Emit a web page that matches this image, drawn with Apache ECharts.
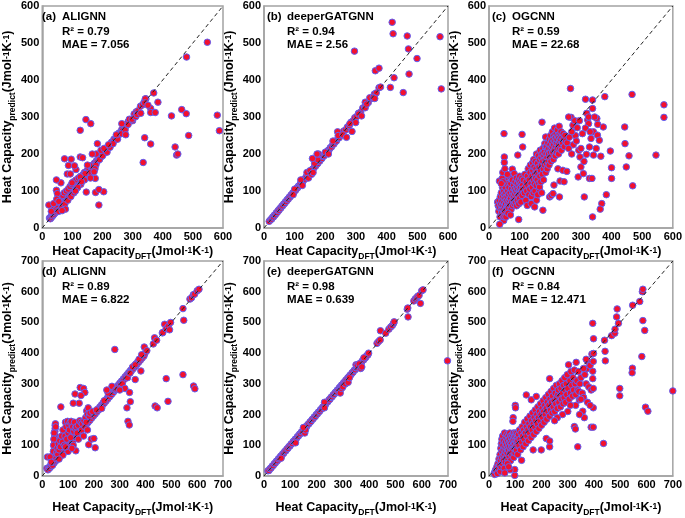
<!DOCTYPE html>
<html><head><meta charset="utf-8">
<script src="https://cdn.jsdelivr.net/npm/echarts@6/dist/echarts.min.js"></script>
<style>html,body{margin:0;padding:0;background:#fff}#c{width:685px;height:518px}</style>
</head><body><div id="c"></div>
<script>
const panelLabels = ['(a)','(b)','(c)','(d)','(e)','(f)'];
const modelNames = ['ALIGNN','deeperGATGNN','OGCNN','ALIGNN','deeperGATGNN','OGCNN'];
const r2Values = ['0.79','0.94','0.59','0.89','0.98','0.84'];
const maeValues = ['7.056','2.56','22.68','6.822','0.639','12.471'];
const axisMax = [600,600,600,700,700,700];
const axisStep = 100;

const dataA = [[24,27],[27,25],[29,31],[31,29],[33,35],[35,33],[37,39],[39,37],[41,43],[43,41],[45,47],[47,45],[49,51],[51,49],[53,55],[55,53],[57,59],[59,57],[62,64],[64,61],[67,69],[69,66],[72,74],[74,71],[77,79],[79,76],[82,84],[84,81],[87,89],[89,86],[92,94],[94,91],[97,99],[99,96],[102,104],[104,101],[107,109],[109,106],[113,115],[115,112],[119,121],[121,118],[125,127],[127,124],[131,133],[133,130],[138,140],[140,137],[145,147],[147,144],[152,154],[154,151],[159,161],[161,158],[166,168],[168,165],[173,175],[175,172],[180,182],[182,179],[187,189],[189,186],[194,196],[196,193],[201,203],[203,200],[208,210],[210,207],[215,217],[217,214],[222,224],[224,221],[230,232],[232,229],[238,240],[240,237],[246,248],[248,245],[255,257],[257,254],[264,266],[266,263],[274,276],[276,273],[285,287],[290,292],[296,294],[305,308],[312,314],[318,317],[326,329],[333,333],[338,340],[344,349],
[40,55],[45,62],[52,70],[58,78],[62,85],[68,88],[73,95],[80,100],[86,105],[92,112],[98,118],[104,125],[112,130],[120,135],[128,140],[136,145],[145,152],[152,160],[160,168],[55,45],[65,55],[75,65],[85,75],[95,85],[105,95],[115,108],[128,118],[140,130],[155,142],[165,155],[178,170],[190,185],[200,195],[215,205],[225,218],[235,228],[250,240],[262,255],[275,265],[285,280],[300,290],[140,150],[150,145],[160,150],[175,160],
[548,502],[479,462],[463,320],[478,309],[429,303],[581,305],[486,250],[588,263],[441,219],[446,197],[450,200],[360,227],[340,244],[335,177],[360,323],[360,312],[375,312],[384,340],[370,365],[342,349],[340,338],[351,332],[145,293],[161,282],[126,264],[126,192],[134,190],[74,187],[96,186],[83,146],[93,146],[87,169],[112,158],[107,168],[99,122],[62,122],[47,130],[47,102],[50,93],[22,62],[38,66],[77,51],[66,47],[146,97],[177,96],[204,98],[188,62],[188,104],[183,228],[179,200],[166,200],[172,152],[176,134],[142,147],[126,138],[246,252],[277,252],[264,282],[289,294],[298,294],[310,301],[315,307],[327,310],[48,78],[55,72],[30,45],[118,110],[110,100],[130,125],[160,135],[195,210],[205,215],[220,225],[150,170]];

const dataB = [[17,18],[22,23],[25,24],[28,29],[31,30],[34,35],[37,36],[40,41],[43,42],[46,47],[49,48],[52,53],[55,54],[58,59],[61,60],[64,65],[67,66],[70,71],[73,72],[76,77],[79,78],[82,83],[85,84],[88,89],[91,90],[94,95],[97,96],[100,101],[103,102],[106,107],[109,108],[112,113],[115,114],[118,119],[121,120],[124,125],[127,126],[130,131],[133,132],[137,138],[140,139],[144,145],[147,146],[151,152],[154,153],[158,159],[161,160],[165,166],[168,167],[172,173],[175,174],[179,180],[182,181],[186,187],[189,188],[193,194],[196,195],[200,201],[204,203],[208,209],[212,211],[216,217],[220,219],[224,225],[228,227],[232,233],[236,235],[241,242],[245,244],[250,251],[255,254],[260,262],[266,265],[272,273],[278,277],[284,286],[290,289],[296,298],[302,301],[308,310],[315,313],[322,324],[328,327],[335,337],[340,339],[347,349],[352,351],[360,362],[366,365],[375,379],[380,381],
[140,150],[145,135],[150,155],[155,145],[160,150],[165,175],[175,185],[178,200],[158,188],[173,200],[120,130],[125,115],[100,105],[95,90],[200,205],[210,200],[225,235],[240,260],[242,250],[257,252],[269,245],[287,261],[299,285],[280,282],[309,308],[318,303],[330,325],[345,352],[356,353],[361,350],[330,340],[335,335],
[295,478],[418,556],[421,525],[467,519],[471,484],[499,458],[473,416],[454,366],[574,517],[578,376],[363,425],[375,432],[424,406],[412,380]];

const dataC = [[28,70],[30,60],[32,45],[33,75],[35,55],[36,30],[37,85],[38,65],[40,50],[40,95],[41,40],[42,72],[43,60],[44,110],[45,35],[45,85],[46,50],[47,122],[48,20],[48,68],[48,100],[49,140],[49,255],[50,192],[50,177],[50,90],[50,60],[51,45],[52,130],[52,80],[53,110],[54,65],[55,95],[56,50],[57,75],[58,120],[59,85],[60,60],[61,100],[62,70],[63,55],[64,90],[65,110],[66,75],[67,140],[68,62],[69,95],[70,80],[71,120],[72,50],[73,105],[74,70],[75,88],[76,159],[76,130],[77,60],[78,98],[79,75],[80,115],[81,85],[82,147],[82,65],[83,105],[84,92],[85,125],[86,70],[87,100],[88,80],[89,135],[90,110],[90,60],[91,95],[92,120],[93,75],[94,197],[94,105],[95,88],[96,130],[97,23],[97,65],[98,115],[99,100],[100,140],[100,80],[101,125],[102,95],[103,110],[104,70],[105,120],[106,100],[107,135],[108,253],[108,88],[109,115],[110,219],[110,105],[34,127],[43,134],[46,125],[49,30],[35,10],[55,30],[62,40],[70,35],[45,150],[52,160],[60,145],[40,120],
[112,130],[115,95],[117,145],[118,110],[120,75],[121,125],[123,100],[125,61],[125,140],[127,115],[128,160],[130,90],[131,130],[133,105],[134,150],[135,170],[137,120],[138,66],[138,85],[140,140],[141,110],[142,176],[143,155],[144,95],[145,130],[146,185],[147,165],[148,120],[149,57],[149,145],[150,100],[151,180],[152,135],[153,160],[154,115],[155,75],[155,200],[156,150],[157,130],[158,175],[159,90],[160,145],[161,195],[162,120],[163,165],[164,105],[165,111],[165,185],[166,140],[167,210],[168,155],[169,125],[170,190],[171,170],[172,95],[173,286],[173,200],[174,145],[175,180],[176,48],[176,215],[177,160],[178,130],[179,195],[180,205],[181,170],[182,228],[183,185],[184,219],[185,246],[185,150],[186,200],[187,175],[188,220],[189,190],[190,160],[191,210],[192,230],[193,180],[194,200],[195,215],[196,170],[197,240],[198,84],[198,190],[199,225],[200,205],[201,250],[202,180],[203,88],[203,215],[204,235],[205,195],[206,220],[207,260],[208,205],[209,93],[209,240],[210,185],[211,225],[212,116],[212,250],[213,210],[214,270],[215,235],[216,195],[217,245],[218,220],[219,255],[220,230],[221,205],[222,240],[223,265],[224,215],[225,160],[225,250],[226,228],[227,200],[228,245],[229,275],[230,84],[230,235],[231,215],[232,127],[232,255],[233,240],[234,225],[235,260],[236,210],[238,245],[240,230],[241,156],[242,255],[244,240],[246,220],[248,250],[250,235],[254,153],
[266,377],[268,299],[274,278],[282,250],[288,271],[293,210],[297,192],[300,165],[291,138],[308,147],[311,84],[315,348],[319,310],[322,292],[325,282],[318,199],[328,134],[336,134],[338,346],[338,323],[341,260],[333,242],[328,219],[341,197],[338,30],[352,296],[354,251],[360,237],[365,194],[378,355],[373,273],[368,66],[383,90],[396,208],[400,163],[400,134],[443,273],[444,228],[448,165],[467,361],[469,114],[457,195],[571,333],[571,299],[363,51],[545,197],[260,300],[270,260],[255,230],[262,245],[275,225],[285,235],[300,215],[310,180],[305,255],[315,270],[325,300],[345,300],[330,260],[350,215],[355,280],[260,215],[280,290],[295,290],[270,200],[245,125]];

const dataD = [[18,25],[22,20],[25,27],[28,25],[31,33],[34,31],[37,39],[40,37],[43,45],[46,43],[49,51],[52,49],[55,57],[58,55],[61,63],[64,61],[67,69],[70,67],[73,75],[76,73],[79,81],[82,79],[85,87],[88,85],[91,93],[94,91],[97,99],[100,97],[104,106],[107,104],[111,113],[114,111],[118,120],[121,118],[125,127],[128,125],[132,134],[135,132],[139,141],[142,139],[146,148],[149,146],[153,155],[156,153],[160,162],[163,160],[167,169],[170,167],[174,176],[177,174],[181,183],[184,181],[188,190],[191,188],[195,197],[198,195],[202,204],[205,202],[209,211],[212,209],[216,218],[219,216],[223,225],[226,223],[230,232],[233,230],[237,239],[240,237],[244,246],[247,244],[251,253],[254,251],[258,260],[261,258],[265,267],[268,265],[272,274],[275,272],[279,281],[282,279],[286,288],[289,286],[293,295],[296,293],[300,302],[303,300],[307,309],[310,307],[314,316],[317,314],[321,323],[324,321],[328,330],[331,328],[335,337],[338,335],[342,344],[345,342],[349,351],[352,349],[356,358],[359,356],[363,365],[366,363],[370,372],[373,370],[377,379],[380,377],[384,386],[387,384],[391,393],[394,391],[398,400],
[40,35],[42,45],[43,55],[44,65],[45,75],[46,85],[47,95],[47,105],[48,115],[48,125],[49,135],[49,145],[50,155],[50,165],[51,170],[52,160],[46,140],[45,120],[44,100],[43,80],[20,62],[30,62],[35,45],[55,75],[58,90],[60,70],[62,105],[65,85],[68,115],[70,95],[72,225],[75,130],[78,110],[80,150],[85,100],[88,130],[90,175],[92,160],[95,120],[98,178],[100,140],[103,165],[105,150],[108,175],[112,178],[115,130],[118,160],[120,100],[122,145],[125,175],[128,155],[130,82],[132,160],[135,140],[140,165],[143,237],[145,180],[147,288],[150,175],[152,150],[155,170],[160,285],[162,180],[165,272],[165,160],[168,190],[170,175],[172,212],[175,200],[178,222],[180,102],[182,195],[185,205],[190,120],[195,210],[200,122],[205,92],[210,215],[127,267],[150,262],[120,237],[100,80],[90,95],[115,90],[140,120],[160,130],[175,150],[80,68],[65,55],[110,125],[230,220],[240,245],[255,270],[270,292],[250,280],[285,281],[290,283],[281,412],[310,300],[320,285],[300,280],[330,320],[340,335],[350,355],[360,362],[375,380],[385,395],
[395,420],[382,342],[360,314],[338,272],[341,242],[328,222],[332,178],[337,166],[437,228],[445,222],[487,243],[480,317],[545,330],[586,293],[591,284],[405,408],[430,430],[435,450],[443,442],[465,466],[467,467],[474,494],[480,480],[488,487],[493,476],[497,500],[545,545],[548,507],[572,576],[578,580],[585,590],[590,592],[600,603],[607,608]];

const dataE = [[15,17],[19,18],[23,24],[27,26],[31,32],[35,34],[39,40],[43,42],[47,48],[51,50],[55,56],[59,58],[63,64],[67,66],[71,72],[75,74],[79,80],[83,82],[87,88],[91,90],[95,96],[99,98],[103,104],[107,106],[111,112],[115,114],[119,120],[123,122],[127,128],[131,130],[135,136],[139,138],[143,144],[147,146],[151,152],[155,154],[159,160],[163,162],[167,168],[171,170],[175,176],[179,178],[183,184],[187,186],[191,192],[195,194],[199,200],[203,202],[207,208],[211,210],[215,216],[219,218],[223,224],[227,226],[231,232],[235,234],[239,240],[243,242],[247,248],[251,250],[255,256],[259,258],[263,264],[267,266],[271,272],[275,274],[279,280],[283,282],[287,288],[291,290],[295,296],[299,298],[303,304],[307,306],[311,312],[315,314],[319,320],[323,322],[327,328],[331,330],[335,336],[339,338],[343,344],[347,346],[351,352],[355,354],[359,360],[363,362],[367,368],[371,370],[375,376],[379,378],[383,384],[387,386],[391,392],[395,394],[398,400],
[65,58],[120,108],[155,140],[158,150],[150,158],[230,240],[290,270],[295,285],[300,290],[310,300],[320,305],[325,320],[350,362],[355,360],[362,365],[368,350],[372,355],[380,385],[230,222],
[430,432],[436,438],[442,443],[443,473],[463,465],[475,478],[482,485],[488,490],[493,497],[495,502],[545,543],[547,547],[548,518],[570,570],[575,576],[580,580],[585,585],[590,588],[595,562],[600,603],[605,606],[698,375]];

const dataF = [[20,10],[22,5],[25,20],[28,15],[30,30],[32,8],[34,40],[36,25],[38,55],[40,35],[42,70],[43,15],[44,50],[45,90],[46,30],[47,105],[48,60],[49,120],[50,80],[51,40],[52,130],[53,100],[54,65],[55,50],[56,115],[57,85],[58,25],[59,140],[60,70],[61,95],[62,45],[63,110],[64,80],[65,125],[66,60],[67,100],[68,135],[69,75],[70,90],[71,115],[72,55],[73,130],[74,85],[75,105],[76,65],[77,120],[78,95],[79,140],[80,75],[81,110],[82,50],[83,130],[84,90],[85,105],[86,70],[87,125],[88,95],[89,135],[90,80],[91,115],[92,100],[93,140],[94,60],[95,120],[96,90],[97,130],[98,2],[98,21],[98,105],[99,75],[100,230],[100,140],[101,222],[101,95],[102,115],[103,130],[104,85],[105,110],[106,140],[107,100],[108,125],[109,70],[110,115],[92,190],[91,178],[124,51],[80,20],[70,40],[60,10],[75,30],
[112,135],[114,100],[116,150],[118,120],[120,85],[122,140],[124,110],[126,160],[128,130],[130,95],[132,150],[134,120],[136,175],[138,140],[140,105],[142,264],[142,160],[144,130],[146,185],[148,150],[150,115],[152,170],[154,140],[156,195],[158,160],[160,125],[161,248],[162,180],[164,150],[166,205],[168,85],[168,170],[170,135],[172,190],[174,160],[176,215],[178,180],[180,259],[180,145],[182,200],[184,170],[186,225],[188,190],[190,155],[192,210],[194,180],[196,235],[198,200],[199,85],[200,165],[202,220],[204,190],[206,245],[208,210],[210,175],[212,230],[214,200],[216,255],[218,122],[218,220],[220,185],[222,240],[224,210],[226,265],[228,230],[230,195],[231,95],[231,114],[231,317],[232,250],[234,215],[236,275],[238,240],[240,205],[242,260],[244,225],[246,285],[248,245],[250,210],[252,270],[254,235],[256,295],[258,255],[260,220],[262,264],
[264,280],[266,240],[268,300],[270,260],[272,225],[274,285],[276,250],[278,310],[280,270],[282,235],[284,295],[286,255],[288,320],[290,280],[292,240],[294,300],[296,265],[298,330],[300,285],[303,362],[305,250],[308,310],[310,270],[312,340],[315,295],[318,260],[320,320],[322,280],[325,161],[329,153],[325,345],[328,300],[330,265],[332,370],[335,310],[338,95],[338,280],[340,340],[342,275],[344,248],[346,300],[350,320],[355,270],[357,211],[360,256],[363,190],[365,330],[370,300],[372,349],[376,373],[380,290],[385,360],[389,280],[389,159],[392,397],[395,341],[395,317],[395,497],[397,285],[397,222],[397,159],[397,373],[398,447],[398,399],[350,250],[360,350],[370,380],[375,240],[385,230],[330,230],[345,200],[310,230],[300,210],[280,200],[260,190],[250,180],
[436,106],[440,442],[443,375],[442,406],[467,457],[479,465],[480,478],[486,518],[488,544],[493,497],[498,285],[498,261],[546,351],[545,336],[547,556],[574,568],[582,389],[584,600],[586,608],[586,506],[593,474],[596,224],[605,211],[700,277]];

const panelData = [dataA, dataB, dataC, dataD, dataE, dataF];

// layout (pixels)
const gridLeft = [39, 264, 489];
const gridWidth = [184, 184, 185];
const gridTop = [6, 261];
const gridHeight = [222, 221];
const xNameGap = [18, 26];
const FONT = '"Liberation Sans", Arial, sans-serif';

const richName = {
  t: {fontSize: 12.5, fontWeight: 'bold', fontFamily: FONT, color: '#000', verticalAlign: 'bottom', lineHeight: 15, padding: [0,0,3,0]},
  s: {fontSize: 8.5, fontWeight: 'bold', fontFamily: FONT, color: '#000', verticalAlign: 'bottom', lineHeight: 10},
  p: {fontSize: 8.5, fontWeight: 'bold', fontFamily: FONT, color: '#000', verticalAlign: 'top', lineHeight: 10}
};
const xName = '{t|Heat Capacity}{s|DFT}{t|(Jmol}{p|-1}{t|K}{p|-1}{t|)}';
const yName = '{t|Heat Capacity}{s|predict}{t|(Jmol}{p|-1}{t|K}{p|-1}{t|)}';

const grids = [], xAxes = [], yAxes = [], series = [], graphics = [];
for (let i = 0; i < 6; i++) {
  const col = i % 3, row = Math.floor(i / 3);
  const L = gridLeft[col], T = gridTop[row];
  grids.push({left: L, top: T, width: gridWidth[col], height: gridHeight[row], show: true,
    borderColor: '#a3a3a3', borderWidth: 1.5, backgroundColor: 'transparent', containLabel: false});
  const common = {
    gridIndex: i, type: 'value', min: 0, max: axisMax[i], interval: axisStep,
    splitLine: {show: false}, axisTick: {show: false},
    axisLine: {show: true, lineStyle: {color: '#a3a3a3', width: 1.5}},
    axisLabel: {color: '#000', fontWeight: 'bold', fontSize: 11, fontFamily: FONT},
    nameLocation: 'middle',
    nameTextStyle: {rich: richName}
  };
  xAxes.push(Object.assign({}, common, {name: xName, nameGap: xNameGap[row], axisLabel: Object.assign({}, common.axisLabel, {margin: 3})}));
  yAxes.push(Object.assign({}, common, {name: yName, nameGap: 24, axisLabel: Object.assign({}, common.axisLabel, {margin: 3})}));
  series.push({
    type: 'scatter', xAxisIndex: i, yAxisIndex: i, data: panelData[i], symbol: 'circle', symbolSize: 6.5,
    itemStyle: {color: '#f2102e', borderColor: '#6060f5', borderWidth: 1, opacity: 1}, z: 2
  });
  series.push({
    type: 'line', xAxisIndex: i, yAxisIndex: i, data: [[0, 0], [axisMax[i], axisMax[i]]],
    symbol: 'none', silent: true, lineStyle: {color: '#222', width: 1, type: [4, 3]}, z: 3
  });
  const tStyle = {fill: '#000', fontSize: 11.5, fontWeight: 'bold', fontFamily: FONT, verticalAlign: 'middle', textAlign: 'left'};
  graphics.push({type: 'text', x: L + 3, y: T + 11, z: 10, style: Object.assign({text: panelLabels[i]}, tStyle)});
  graphics.push({type: 'text', x: L + 23, y: T + 10.5, z: 10, style: Object.assign({text: modelNames[i]}, tStyle)});
  graphics.push({type: 'text', x: L + 23, y: T + 26, z: 10, style: Object.assign({text: 'R\u00b2 = ' + r2Values[i]}, tStyle)});
  graphics.push({type: 'text', x: L + 23, y: T + 38.5, z: 10, style: Object.assign({text: 'MAE = ' + maeValues[i]}, tStyle)});
}

const chart = echarts.init(document.getElementById('c'), null, {renderer: 'canvas'});
chart.setOption({
  animation: false,
  backgroundColor: '#fff',
  grid: grids, xAxis: xAxes, yAxis: yAxes, series: series, graphic: graphics
});
</script></body></html>
